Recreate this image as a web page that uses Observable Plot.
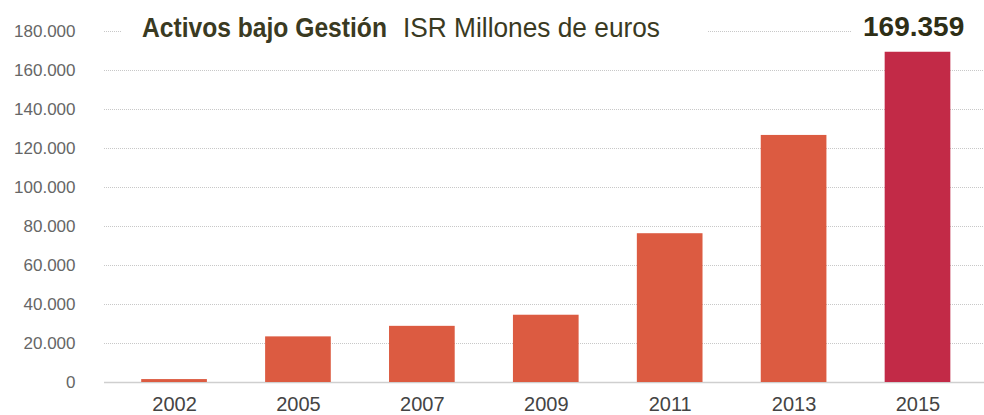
<!DOCTYPE html>
<html>
<head>
<meta charset="utf-8">
<script src="https://cdn.jsdelivr.net/npm/d3@7"></script>
<script src="https://cdn.jsdelivr.net/npm/@observablehq/plot@0.6"></script>
<style>
  html, body { margin: 0; padding: 0; background: #fff; }
  #wrap { position: relative; width: 984px; height: 415px; overflow: hidden; font-family: "Liberation Sans", Arial, sans-serif; }
  #title { position: absolute; left: 122px; top: 15px; width: 586px; height: 32px; background: #fff; font-size: 27px; line-height: 27px; color: #3a3a22; white-space: nowrap; }
  #title span { position: absolute; top: 0; transform-origin: 0 50%; }
  #title .b { left: 20px; font-weight: bold; transform: scaleX(0.912); }
  #title .r { left: 281px; transform: scaleX(0.973); }
  #total { position: absolute; left: 852px; right: 0; top: 13px; padding-left: 11px; background: #fff; font-size: 28px; line-height: 28px; font-weight: bold; color: #2e2e16; white-space: nowrap; }
</style>
</head>
<body>
<div id="wrap"></div>
<script>
const years = ["2002", "2005", "2007", "2009", "2011", "2013", "2015"];
const values = [1500, 23400, 28800, 34500, 76300, 126700, 169359];
const yTicks = [0, 20000, 40000, 60000, 80000, 100000, 120000, 140000, 160000, 180000];
const titleBold = "Activos bajo Gestión";
const titleRest = "ISR Millones de euros";
const highlightYear = "2015";

const data = years.map((year, i) => ({year, value: values[i]}));
const fmt = d => d3.format(",")(d).replace(/,/g, ".");

const chart = Plot.plot({
  width: 984,
  height: 415,
  marginTop: 31,
  marginBottom: 33,
  marginLeft: 104,
  marginRight: 0,
  style: {fontFamily: "'Liberation Sans', Arial, sans-serif", background: "#fff"},
  x: {domain: years, paddingInner: 0.47, paddingOuter: 0.286, align: 0.525, round: false, label: null},
  y: {domain: [0, 180000], label: null},
  marks: [
    Plot.ruleY(yTicks.filter(d => d > 0), {stroke: "#c8c8c8", strokeDasharray: "1 1", strokeWidth: 1.2}),
    Plot.ruleY([0], {stroke: "#cfcfcf", strokeWidth: 1.5}),
    Plot.barY(data, {x: "year", y: "value", fill: d => d.year === highlightYear ? "#c22a47" : "#dc5b41"}),
    Plot.axisY({ticks: yTicks, tickSize: 0, tickPadding: 29, tickFormat: fmt, fontSize: 17, fill: "#666"}),
    Plot.axisX({tickSize: 0, tickPadding: 14, fontSize: 20, fill: "#444"})
  ]
});

const wrap = document.getElementById("wrap");
wrap.appendChild(chart);
const t = document.createElement("div");
t.id = "title";
const sb = document.createElement("span");
sb.className = "b";
sb.textContent = titleBold;
const sr = document.createElement("span");
sr.className = "r";
sr.textContent = titleRest;
t.appendChild(sb);
t.appendChild(sr);
wrap.appendChild(t);
const tot = document.createElement("div");
tot.id = "total";
tot.textContent = fmt(values[values.length - 1]);
wrap.appendChild(tot);
</script>
</body>
</html>
